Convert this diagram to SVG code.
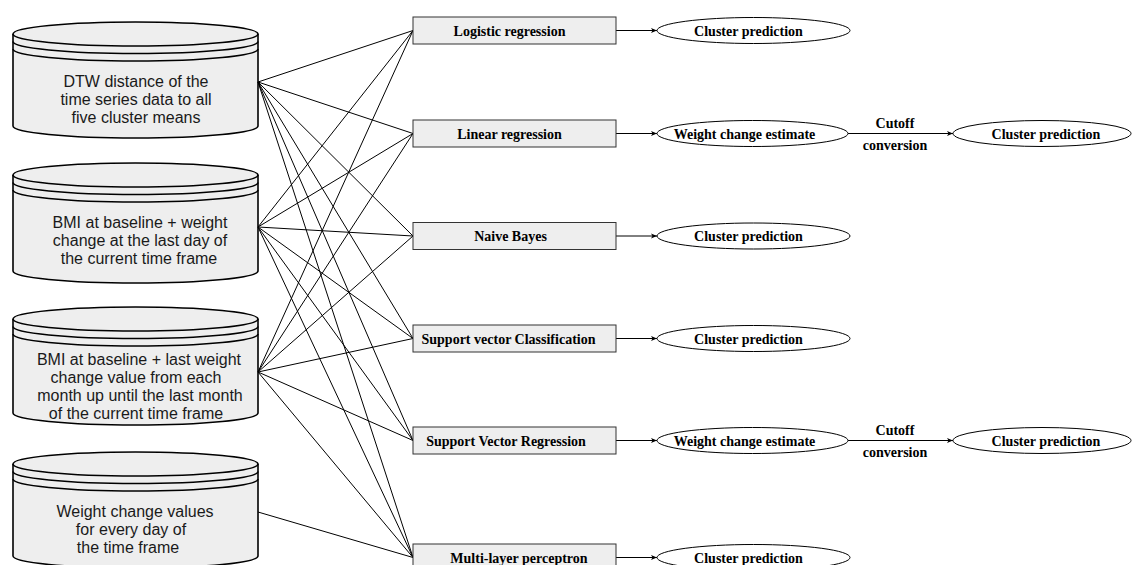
<svg xmlns="http://www.w3.org/2000/svg" width="1136" height="565" viewBox="0 0 1136 565">
<style>
.cyl{fill:#eeeeee;stroke:#000;stroke-width:1.6}
.arc{fill:none;stroke:#000;stroke-width:1.6}
.ctext{font-family:"Liberation Sans",Arial,sans-serif;font-size:16px;fill:#1a1a1a;text-anchor:middle}
.box{fill:#eeeeee;stroke:#333;stroke-width:1}
.ell{fill:#fff;stroke:#000;stroke-width:1}
.btext{font-family:"Liberation Serif","Times New Roman",serif;font-size:14px;font-weight:bold;fill:#000;text-anchor:middle}
.conn line{stroke:#000;stroke-width:1}
.arr{stroke:#000;stroke-width:1;fill:none;marker-end:url(#ah)}
</style>
<defs>
<marker id="ah" markerUnits="userSpaceOnUse" markerWidth="8" markerHeight="6" refX="6" refY="3" orient="auto">
<path d="M0,0.5 L6,3 L0,5.5 L1.5,3 Z" fill="#000"/>
</marker>
</defs>
<rect width="1136" height="565" fill="#fff"/>

<g id="cyl1">
<path class="cyl" d="M13,34 A122.5,12 0 0 1 258,34 L258,126 A122.5,12 0 0 1 13,126 Z"/>
<path class="arc" d="M13,34 A122.5,12 0 0 0 258,34 M13,41.5 A122.5,12 0 0 0 258,41.5 M13,49 A122.5,12 0 0 0 258,49"/>
<text class="ctext" x="136" y="87">DTW distance of the</text>
<text class="ctext" x="136" y="105">time series data to all</text>
<text class="ctext" x="136" y="123">five cluster means</text>
</g>
<g id="cyl2">
<path class="cyl" d="M13,175 A122.5,12 0 0 1 258,175 L258,271 A122.5,12 0 0 1 13,271 Z"/>
<path class="arc" d="M13,175 A122.5,12 0 0 0 258,175 M13,182.5 A122.5,12 0 0 0 258,182.5 M13,190 A122.5,12 0 0 0 258,190"/>
<text class="ctext" x="140" y="227.5">BMI at baseline + weight</text>
<text class="ctext" x="140" y="245.5">change at the last day of</text>
<text class="ctext" x="139" y="263.5">the current time frame</text>
</g>
<g id="cyl3">
<path class="cyl" d="M13,319 A122.5,12 0 0 1 258,319 L258,413 A122.5,12 0 0 1 13,413 Z"/>
<path class="arc" d="M13,319 A122.5,12 0 0 0 258,319 M13,326.5 A122.5,12 0 0 0 258,326.5 M13,334 A122.5,12 0 0 0 258,334"/>
<text class="ctext" x="139" y="364.5">BMI at baseline + last weight</text>
<text class="ctext" x="136" y="382.5">change value from each</text>
<text class="ctext" x="140" y="400.5">month up until the last month</text>
<text class="ctext" x="136" y="418.5">of the current time frame</text>
</g>
<g id="cyl4">
<path class="cyl" d="M13,464 A122.5,12 0 0 1 258,464 L258,556 A122.5,12 0 0 1 13,556 Z"/>
<path class="arc" d="M13,464 A122.5,12 0 0 0 258,464 M13,471.5 A122.5,12 0 0 0 258,471.5 M13,479 A122.5,12 0 0 0 258,479"/>
<text class="ctext" x="135" y="517">Weight change values</text>
<text class="ctext" x="131" y="535">for every day of</text>
<text class="ctext" x="128" y="553">the time frame</text>
</g>

<g id="connectors" class="conn">
<line x1="258" y1="82" x2="413" y2="30.5"/>
<line x1="258" y1="82" x2="413" y2="133.5"/>
<line x1="258" y1="82" x2="413" y2="236"/>
<line x1="258" y1="82" x2="413" y2="338.5"/>
<line x1="258" y1="82" x2="413" y2="440.5"/>
<line x1="258" y1="82" x2="413" y2="557.5"/>
<line x1="258" y1="227" x2="413" y2="30.5"/>
<line x1="258" y1="227" x2="413" y2="133.5"/>
<line x1="258" y1="227" x2="413" y2="236"/>
<line x1="258" y1="227" x2="413" y2="338.5"/>
<line x1="258" y1="227" x2="413" y2="440.5"/>
<line x1="258" y1="227" x2="413" y2="557.5"/>
<line x1="258" y1="372" x2="413" y2="30.5"/>
<line x1="258" y1="372" x2="413" y2="133.5"/>
<line x1="258" y1="372" x2="413" y2="236"/>
<line x1="258" y1="372" x2="413" y2="338.5"/>
<line x1="258" y1="372" x2="413" y2="440.5"/>
<line x1="258" y1="372" x2="413" y2="557.5"/>
<line x1="258" y1="512" x2="413" y2="557.5"/>
<path class="arr" d="M616,30.5 H657"/>
<path class="arr" d="M616,133.5 H657"/>
<path class="arr" d="M616,236 H657"/>
<path class="arr" d="M616,338.5 H657"/>
<path class="arr" d="M616,440.5 H657"/>
<path class="arr" d="M616,557.5 H657"/>
<path class="arr" d="M848,133.5 H953"/>
<path class="arr" d="M848,440.5 H953"/>
<text class="btext" x="895" y="128">Cutoff</text>
<text class="btext" x="895" y="150">conversion</text>
<text class="btext" x="895" y="435">Cutoff</text>
<text class="btext" x="895" y="457">conversion</text>
</g>

<g id="m1"><rect class="box" x="413" y="17" width="203" height="27"/><text class="btext" x="509.5" y="35.5">Logistic regression</text></g>
<g id="m2"><rect class="box" x="413" y="120" width="203" height="27"/><text class="btext" x="509.5" y="138.5">Linear regression</text></g>
<g id="m3"><rect class="box" x="413" y="222.5" width="203" height="27"/><text class="btext" x="510.5" y="241">Naive Bayes</text></g>
<g id="m4"><rect class="box" x="413" y="325" width="203" height="27"/><text class="btext" x="508.5" y="343.5">Support vector Classification</text></g>
<g id="m5"><rect class="box" x="413" y="427" width="203" height="27"/><text class="btext" x="506" y="445.5">Support Vector Regression</text></g>
<g id="m6"><rect class="box" x="413" y="544" width="203" height="27"/><text class="btext" x="519" y="562.5">Multi-layer perceptron</text></g>

<g id="o1"><ellipse class="ell" cx="753.5" cy="30.5" rx="96.5" ry="13"/><text class="btext" x="748.5" y="35.5">Cluster prediction</text></g>
<g id="o2"><ellipse class="ell" cx="752.5" cy="133.5" rx="95.5" ry="13"/><text class="btext" x="744.5" y="138.5">Weight change estimate</text></g>
<g id="o3"><ellipse class="ell" cx="753.5" cy="236" rx="96.5" ry="13"/><text class="btext" x="748.5" y="241">Cluster prediction</text></g>
<g id="o4"><ellipse class="ell" cx="753.5" cy="338.5" rx="96.5" ry="13"/><text class="btext" x="748.5" y="343.5">Cluster prediction</text></g>
<g id="o5"><ellipse class="ell" cx="752.5" cy="440.5" rx="95.5" ry="13"/><text class="btext" x="744.5" y="445.5">Weight change estimate</text></g>
<g id="o6"><ellipse class="ell" cx="753.5" cy="557.5" rx="96.5" ry="13"/><text class="btext" x="748.5" y="562.5">Cluster prediction</text></g>
<g id="o7"><ellipse class="ell" cx="1042" cy="133.5" rx="89" ry="13"/><text class="btext" x="1046" y="138.5">Cluster prediction</text></g>
<g id="o8"><ellipse class="ell" cx="1042" cy="440.5" rx="89" ry="13"/><text class="btext" x="1046" y="445.5">Cluster prediction</text></g>
</svg>
